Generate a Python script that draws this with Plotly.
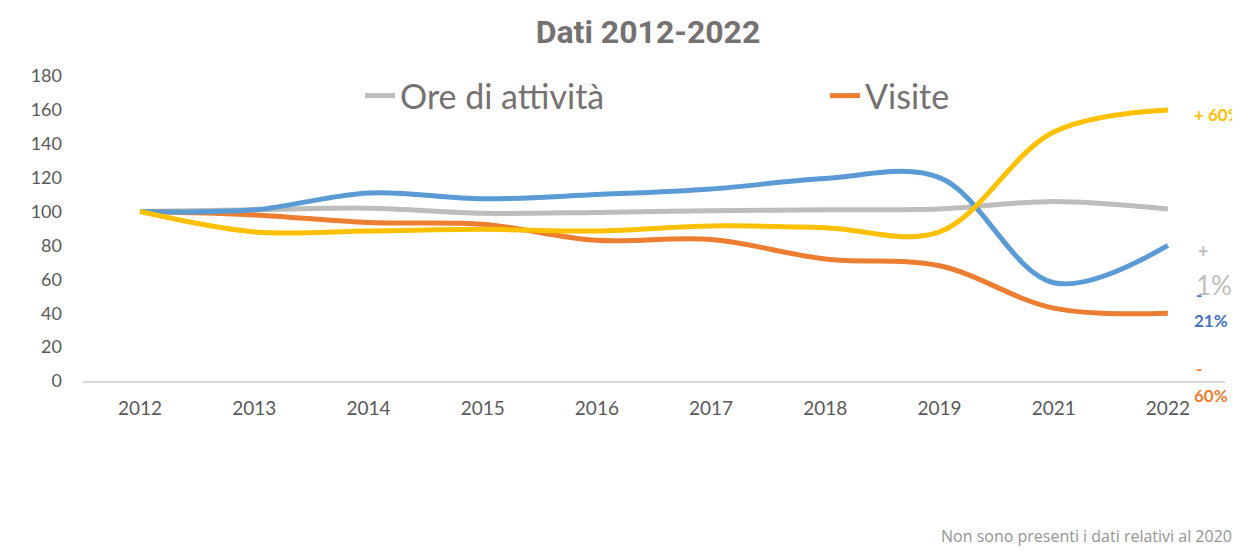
import plotly.graph_objects as go

years = ["2012", "2013", "2014", "2015", "2016", "2017", "2018", "2019", "2021", "2022"]
ore_attivita = [100, 101, 102, 99, 99.5, 100.5, 101, 101.5, 106, 101.5]
visite = [100, 98, 93.5, 92.5, 83, 83.5, 72, 68, 43, 40]
serie_blu = [100, 101, 111, 107.5, 110, 113.3, 119.5, 120, 58, 80]
serie_gialla = [100, 88, 88.5, 89.5, 88.5, 91.5, 90.5, 88, 147, 160]
y_ticks = [0, 20, 40, 60, 80, 100, 120, 140, 160, 180]

GRAY = "#BDBDBB"
ORANGE = "#ED7D31"
BLUE = "#5B9BD5"
YELLOW = "#FFC000"
TXT = "#595959"
FONT = "Lato, Open Sans, sans-serif"

# page has an 8px body margin: figure is sized so the plot area lands where the reference has it
PLOT_L, PLOT_W, PLOT_B, PLOT_H = 83, 1142, 381, 305


def px_x(page_x):
    return (page_x - PLOT_L) / PLOT_W


def px_y(page_y):
    return (PLOT_B - page_y) / PLOT_H


fig = go.Figure()
fig.add_trace(go.Scatter(x=years, y=ore_attivita, name="Ore di attività", mode="lines",
                         line=dict(color=GRAY, width=5, shape="spline", smoothing=1)))
fig.add_trace(go.Scatter(x=years, y=visite, name="Visite", mode="lines",
                         line=dict(color=ORANGE, width=5, shape="spline", smoothing=1)))
fig.add_trace(go.Scatter(x=years, y=serie_blu, name="Serie 3", mode="lines", showlegend=False,
                         line=dict(color=BLUE, width=5, shape="spline", smoothing=1)))
fig.add_trace(go.Scatter(x=years, y=serie_gialla, name="Serie 4", mode="lines", showlegend=False,
                         line=dict(color=YELLOW, width=5, shape="spline", smoothing=1)))

ann = []


def label(text, x_page, y_page, color, size, bold=False):
    ann.append(dict(text=("<b>%s</b>" % text) if bold else text,
                    xref="paper", x=px_x(x_page), xanchor="left",
                    yref="paper", y=px_y(y_page), yanchor="middle", showarrow=False,
                    font=dict(family=FONT, size=size, color=color)))


label("+ 60%", 1192, 115, YELLOW, 17, True)
label("+", 1196, 251, GRAY, 18, True)
label("1%", 1194, 285, GRAY, 26)
label("-", 1194, 294, "#4472C4", 17, True)
label("21%", 1192, 320, "#4472C4", 17, True)
label("-", 1194, 368, ORANGE, 17, True)
label("60%", 1192, 395, ORANGE, 17, True)

ann.append(dict(text="Non sono presenti i dati relativi al 2020", xref="paper", yref="paper",
                x=px_x(1234), xanchor="right", y=px_y(536), yanchor="middle",
                showarrow=False, font=dict(family="Open Sans, Lato, sans-serif", size=16, color="#949494")))

fig.update_layout(
    width=1232, height=543,
    margin=dict(l=75, r=15, t=68, b=170, autoexpand=False),
    paper_bgcolor="white", plot_bgcolor="white",
    title=dict(text="<b>Dati 2012-2022</b>", x=640 / 1232, xanchor="center",
               y=1 - 24 / 543, yanchor="middle",
               font=dict(family="Liberation Sans Narrow, Arial Narrow, Roboto, sans-serif",
                         size=32, color="#767171")),
    legend=dict(orientation="h", x=px_x(360), xanchor="left",
                y=px_y(96), yanchor="middle",
                font=dict(family=FONT, size=34, color="#767171"),
                entrywidth=420, entrywidthmode="pixels", bgcolor="rgba(0,0,0,0)"),
    annotations=ann,
    showlegend=True,
)
fig.update_xaxes(type="category", range=[-0.5, len(years) - 0.5], showgrid=False, showline=True,
                 linecolor="#D9D9D9", linewidth=1.5, automargin=False,
                 ticks="", tickfont=dict(family=FONT, size=19, color=TXT), ticklabelstandoff=9,
                 zeroline=False)
fig.update_yaxes(range=[0, 180], tickvals=y_ticks, showgrid=False, showline=False, zeroline=False,
                 automargin=False, ticks="", tickfont=dict(family=FONT, size=18, color=TXT),
                 ticklabelstandoff=20)

fig.write_html("out.html")
